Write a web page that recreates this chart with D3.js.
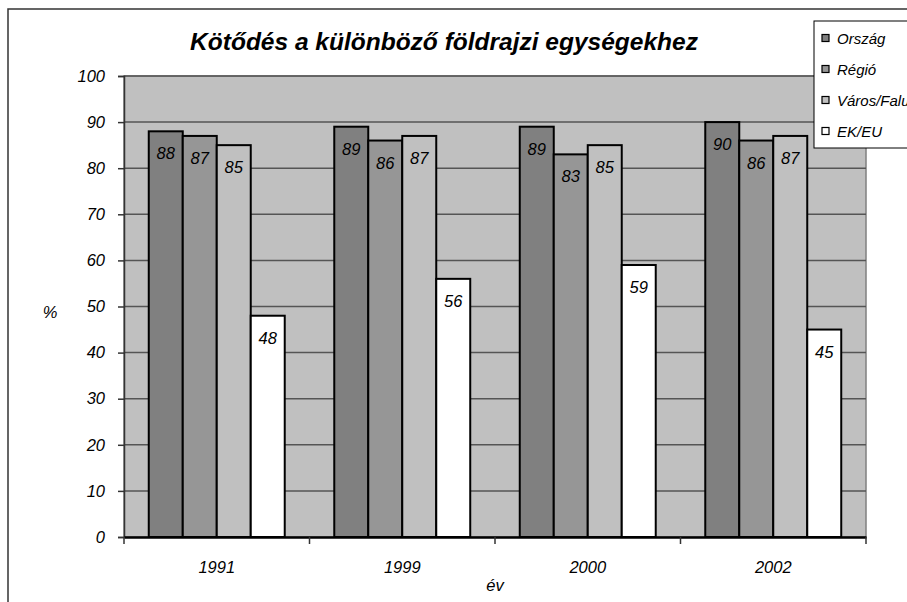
<!DOCTYPE html>
<html>
<head>
<meta charset="utf-8">
<script src="https://cdn.jsdelivr.net/npm/d3@7"></script>
<style>
  html, body { margin: 0; padding: 0; background: #fff; }
  svg { display: block; font-family: "Liberation Sans", Arial, sans-serif; }
  .lbl { font-style: italic; font-size: 16.5px; fill: #000; }
</style>
</head>
<body>
<svg id="chart" width="907" height="602"></svg>
<script>
// adatok
const years = ['1991', '1999', '2000', '2002'];
const seriesNames = ['Ország', 'Régió', 'Város/Falu', 'EK/EU'];
const seriesColors = ['#808080', '#969696', '#c0c0c0', '#ffffff'];
const orszag = [88, 89, 89, 90];
const regio = [87, 86, 83, 86];
const varos = [85, 87, 85, 87];
const ekeu = [48, 56, 59, 45];
const yTicks = [0, 10, 20, 30, 40, 50, 60, 70, 80, 90, 100];

const values = [orszag, regio, varos, ekeu];

const svg = d3.select('#chart');
const plot = { left: 124, right: 866, top: 76, bottom: 537 };

// külső keret
svg.append('rect')
    .attr('x', 8).attr('y', 9)
    .attr('width', 1000).attr('height', 1000)
    .attr('fill', '#fff')
    .attr('stroke', '#333')
    .attr('stroke-width', 1.5);

const x0 = d3.scaleBand()
    .domain(years)
    .range([plot.left, plot.right]);

const groupFrac = 0.733;
const bw = x0.bandwidth();
const x1 = d3.scaleBand()
    .domain(seriesNames)
    .range([bw * (1 - groupFrac) / 2, bw * (1 + groupFrac) / 2]);

const y = d3.scaleLinear()
    .domain([0, 100])
    .range([plot.bottom, plot.top]);

// rajzterület háttér
svg.append('rect')
    .attr('x', plot.left).attr('y', plot.top)
    .attr('width', plot.right - plot.left)
    .attr('height', plot.bottom - plot.top)
    .attr('fill', '#c0c0c0')
    .attr('stroke', '#808080')
    .attr('stroke-width', 1.5);

// rácsvonalak
svg.append('g')
    .selectAll('line')
    .data(yTicks.filter(t => t > 0))
    .enter()
    .append('line')
    .attr('x1', plot.left).attr('x2', plot.right)
    .attr('y1', d => y(d)).attr('y2', d => y(d))
    .attr('stroke', '#555')
    .attr('stroke-width', 1.5);

// y tengely
const yAxis = svg.append('g')
    .attr('transform', `translate(${plot.left},0)`)
    .call(d3.axisLeft(y).tickValues(yTicks).tickSize(6).tickPadding(13));
yAxis.select('.domain').attr('stroke', '#333').attr('stroke-width', 1.5);
yAxis.selectAll('.tick line').attr('stroke', '#333').attr('stroke-width', 1.5);
yAxis.selectAll('.tick text')
    .attr('class', 'lbl')
    .attr('font-family', null)
    .attr('font-size', null);

// oszlopok
const groups = svg.append('g')
    .selectAll('g')
    .data(years)
    .enter()
    .append('g')
    .attr('transform', d => `translate(${x0(d)},0)`);

groups.selectAll('rect')
    .data((d, i) => seriesNames.map((s, j) => ({ s, j, v: values[j][i] })))
    .enter()
    .append('rect')
    .attr('x', d => x1(d.s))
    .attr('y', d => y(d.v))
    .attr('width', x1.bandwidth())
    .attr('height', d => y(0) - y(d.v))
    .attr('fill', d => seriesColors[d.j])
    .attr('stroke', '#000')
    .attr('stroke-width', 2);

groups.selectAll('text')
    .data((d, i) => seriesNames.map((s, j) => ({ s, j, v: values[j][i] })))
    .enter()
    .append('text')
    .attr('class', 'lbl')
    .attr('x', d => x1(d.s) + x1.bandwidth() / 2)
    .attr('y', d => y(d.v) + 28)
    .attr('text-anchor', 'middle')
    .text(d => d.v);

// x tengely
const xAxis = svg.append('g')
    .attr('transform', `translate(0,${plot.bottom})`)
    .call(d3.axisBottom(x0).tickSize(0).tickPadding(24));
xAxis.select('.domain').attr('stroke', '#000').attr('stroke-width', 2.5);
xAxis.selectAll('.tick text')
    .attr('class', 'lbl')
    .attr('font-family', null)
    .attr('font-size', null);

// kategória elválasztó jelek
svg.append('g')
    .selectAll('line')
    .data(years.map(d => x0(d)).concat([plot.right]))
    .enter()
    .append('line')
    .attr('x1', d => d).attr('x2', d => d)
    .attr('y1', plot.bottom).attr('y2', plot.bottom + 7)
    .attr('stroke', '#333')
    .attr('stroke-width', 1.5);

// tengelycímek
svg.append('text')
    .attr('class', 'lbl')
    .attr('x', 50).attr('y', 318)
    .attr('text-anchor', 'middle')
    .text('%');

svg.append('text')
    .attr('class', 'lbl')
    .attr('x', (plot.left + plot.right) / 2).attr('y', 591)
    .attr('text-anchor', 'middle')
    .text('év');

// cím
svg.append('text')
    .attr('x', 444).attr('y', 50)
    .attr('text-anchor', 'middle')
    .attr('font-size', 24.5)
    .attr('font-weight', 'bold')
    .attr('font-style', 'italic')
    .text('Kötődés a különböző földrajzi egységekhez');

// jelmagyarázat
const legend = svg.append('g');
legend.append('rect')
    .attr('x', 814).attr('y', 21)
    .attr('width', 120).attr('height', 127)
    .attr('fill', '#fff')
    .attr('stroke', '#000')
    .attr('stroke-width', 1);

const items = legend.selectAll('g.item')
    .data(seriesNames)
    .enter()
    .append('g')
    .attr('class', 'item')
    .attr('transform', (d, i) => `translate(822,${38 + i * 31})`);

items.append('rect')
    .attr('x', 0).attr('y', -3.5)
    .attr('width', 7).attr('height', 7)
    .attr('fill', (d, i) => seriesColors[i])
    .attr('stroke', '#000')
    .attr('stroke-width', 1.2);

items.append('text')
    .attr('x', 15).attr('y', 5.5)
    .attr('font-size', 15)
    .attr('font-style', 'italic')
    .text(d => d);
</script>
</body>
</html>
